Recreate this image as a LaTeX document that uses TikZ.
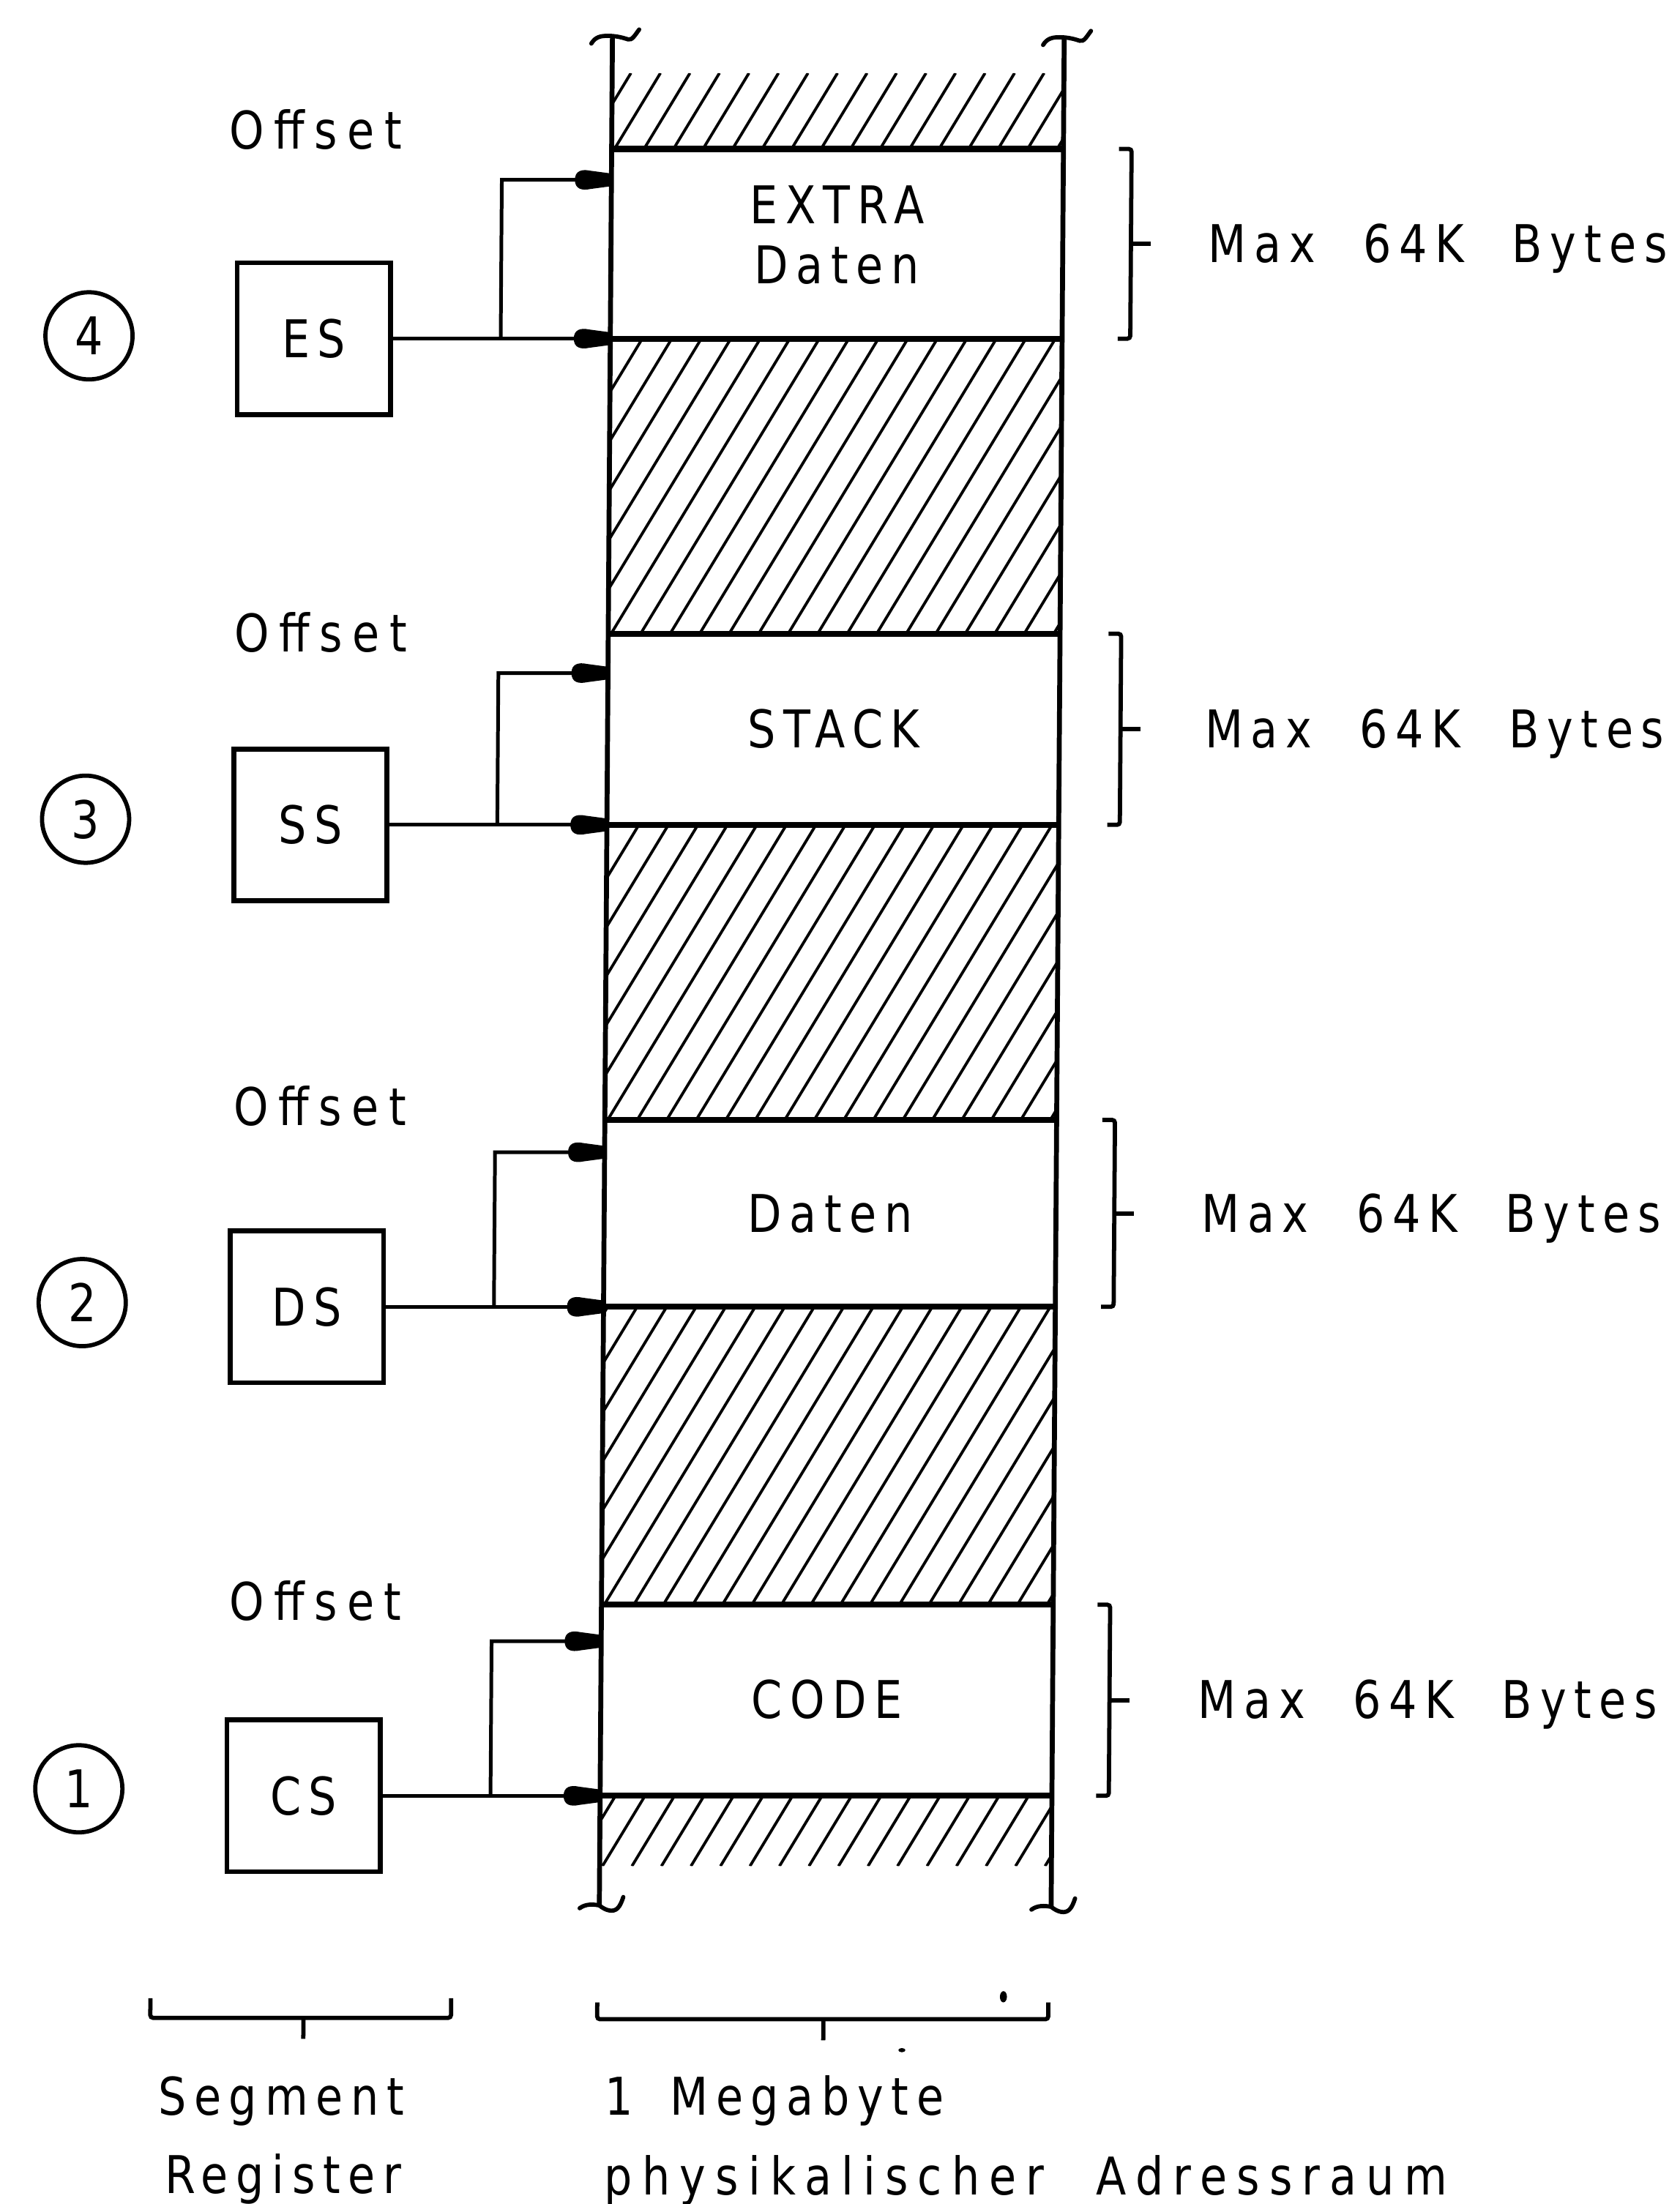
\documentclass[tikz,border=0pt]{standalone}
\usepackage{fontspec}
\setmainfont{DejaVu Sans}
\newfontfamily\lett[LetterSpace=15,FakeStretch=0.85,WordSpace=2.2]{DejaVu Sans}
\usetikzlibrary{arrows.meta}

\pgfdeclarearrow{
  name = Blob,
  setup code = {
    \pgfarrowssettipend{0pt}
    \pgfarrowssetlineend{-16pt}
    \pgfarrowssetbackend{-26pt}
    \pgfarrowshullpoint{0pt}{4.5pt}
    \pgfarrowshullpoint{0pt}{-4.5pt}
    \pgfarrowshullpoint{-26pt}{7.5pt}
    \pgfarrowshullpoint{-26pt}{-7.5pt}
  },
  drawing code = {
    \pgfpathmoveto{\pgfqpoint{0pt}{4.5pt}}
    \pgfpathlineto{\pgfqpoint{-15pt}{6.5pt}}
    \pgfpathcurveto{\pgfqpoint{-21pt}{7.8pt}}{\pgfqpoint{-26pt}{6.5pt}}{\pgfqpoint{-26pt}{0pt}}
    \pgfpathcurveto{\pgfqpoint{-26pt}{-6.5pt}}{\pgfqpoint{-21pt}{-7.8pt}}{\pgfqpoint{-15pt}{-6.5pt}}
    \pgfpathlineto{\pgfqpoint{0pt}{-4.5pt}}
    \pgfpathclose
    \pgfusepathqfill
  }
}

\tikzset{
  lbl/.style={font={\lett\fontsize{37}{43}\selectfont}, inner sep=0pt, text=black},
  regbox/.style={draw, line width=3.5pt, minimum width=109pt, minimum height=108pt, inner sep=0pt, lbl},
  numcirc/.style={draw, circle, line width=3pt, minimum size=62pt, inner sep=0pt, lbl},
  conn/.style={line width=2.6pt, -{Blob}},
  colline/.style={line width=3.5pt},
  segline/.style={line width=4.2pt},
  hatchline/.style={line width=2pt},
  brk/.style={line width=3pt, rounded corners=2pt},
  endmark/.style={line width=3pt, line cap=round},
}

\newcommand{\hatchband}[2]{%
  \begin{scope}
    \clip (436,#1) -- (757.5,#1) -- (757.5,#2) -- (436,#2) -- cycle;
    \foreach \k in {-8,...,16} {%
      \draw[hatchline] ({438+21*\k},#2) -- ++({(#2-#1)/1.67},{-(#2-#1)});
    }
  \end{scope}}

\newcommand{\tildetop}[2]{%
  \draw[endmark] ({#1-15},{#2+5}) .. controls ({#1-12},{#2}) and ({#1-8},{#2-0.5}) .. ({#1-3},{#2-0.5})
     .. controls ({#1+3},{#2-0.5}) and ({#1+8},{#2+1}) .. ({#1+11},{#2+2})
     .. controls ({#1+14},{#2+3}) and ({#1+16},{#2-1}) .. ({#1+19},{#2-5});}
\newcommand{\tildebot}[2]{%
  \draw[endmark] ({#1-14},{#2+2}) .. controls ({#1-10},{#2-1}) and ({#1-5},{#2-1}) .. ({#1},{#2})
     .. controls ({#1+5},{#2+4}) and ({#1+10},{#2+5}) .. ({#1+13},{#2+2})
     .. controls ({#1+15},{#2}) and ({#1+16},{#2-3}) .. ({#1+17},{#2-6});}

\newcommand{\rbrk}[3]{%
  \draw[brk] ({#1-9},#2) -- (#1,#2) -- (#1,#3) -- ({#1-9},#3);
  \draw[brk] (#1,{(#2+#3)/2}) -- ({#1+14},{(#2+#3)/2});}

\begin{document}
\begin{tikzpicture}[x=1pt,y=-1pt]
\useasboundingbox (0,0) rectangle (1195,1568.5);
\begin{scope}[xslant=0.007]
  % hatched free memory
  \hatchband{52}{106}
  \hatchband{241}{451}
  \hatchband{587}{797}
  \hatchband{930}{1142}
  \hatchband{1278}{1328}
  % column edges
  \draw[colline] (436,26) -- (436,1356);
  \draw[colline] (757.5,27) -- (757.5,1357);
  \tildetop{436}{26}
  \tildetop{757.5}{27}
  \tildebot{436}{1356}
  \tildebot{757.5}{1357}
  % segment boundaries
  \foreach \yy in {106,241,451,587,797,930,1142,1278}
    \draw[segline] (436,\yy) -- (757.5,\yy);

  % segment texts
  \node[lbl, anchor=base] (s4a) at (597,159) {EXTRA};
  \node[lbl, anchor=base] (s4b) at (597,202) {Daten};
  \node[lbl, anchor=base] (s3) at (597,532) {STACK};
  \node[lbl, anchor=base] (s2) at (597,877) {Daten};
  \node[lbl, anchor=base] (s1) at (597,1223) {CODE};

  % arrow targets on the column edge
  \coordinate (t4lo) at (436,241);  \coordinate (t4up) at (436,128);
  \coordinate (t3lo) at (436,587);  \coordinate (t3up) at (436,479);
  \coordinate (t2lo) at (436,930);  \coordinate (t2up) at (436,820);
  \coordinate (t1lo) at (436,1278); \coordinate (t1up) at (436,1168);

  % branch points
  \coordinate (b4) at (358,241);
  \coordinate (b3) at (358,587);
  \coordinate (b2) at (358,930);
  \coordinate (b1) at (358,1278);

  % registers
  \node[regbox] (es) at (225,241) {ES};
  \node[regbox] (ss) at (225,587) {SS};
  \node[regbox] (ds) at (225,930) {DS};
  \node[regbox] (cs) at (225,1278) {CS};

  % numbers
  \node[numcirc] (n4) at (65,239) {4};
  \node[numcirc] (n3) at (65,583) {3};
  \node[numcirc] (n2) at (65,927) {2};
  \node[numcirc] (n1) at (65,1273) {1};

  % offset labels
  \node[lbl, anchor=base west] (o4) at (164,106) {\addfontfeatures{LetterSpace=19}Offset};
  \node[lbl, anchor=base west] (o3) at (170,464) {\addfontfeatures{LetterSpace=19}Offset};
  \node[lbl, anchor=base west] (o2) at (172,801) {\addfontfeatures{LetterSpace=19}Offset};
  \node[lbl, anchor=base west] (o1) at (171,1153) {\addfontfeatures{LetterSpace=19}Offset};

  % connectors
  \draw[conn] (es.east) -- (t4lo);
  \draw[conn] (b4) |- (t4up);
  \draw[conn] (ss.east) -- (t3lo);
  \draw[conn] (b3) |- (t3up);
  \draw[conn] (ds.east) -- (t2lo);
  \draw[conn] (b2) |- (t2up);
  \draw[conn] (cs.east) -- (t1lo);
  \draw[conn] (b1) |- (t1up);

  % right brackets
  \rbrk{806}{106}{241}
  \rbrk{801}{451}{587}
  \rbrk{799}{797}{930}
  \rbrk{798}{1142}{1278}
  \node[lbl, anchor=base west] (m4) at (861,187) {Max 64K Bytes};
  \node[lbl, anchor=base west] (m3) at (861,532) {Max 64K Bytes};
  \node[lbl, anchor=base west] (m2) at (861,877) {Max 64K Bytes};
  \node[lbl, anchor=base west] (m1) at (861,1223) {Max 64K Bytes};

  % bottom brackets
  \draw[brk] (117,1422) -- (117,1436) -- (331,1436) -- (331,1422);
  \draw[brk] (226,1436) -- (226,1451);
  \draw[brk] (435,1425) -- (435,1437) -- (756,1437) -- (756,1425);
  \draw[brk] (596,1437) -- (596,1452);
  \fill (724,1421) ellipse [x radius=2.5pt, y radius=4pt];
  \fill (652,1459) ellipse [x radius=2.5pt, y radius=1.5pt];

  % bottom texts
  \node[lbl, anchor=base west] (bt1) at (123,1505) {Segment};
  \node[lbl, anchor=base west] (bt2) at (128,1561) {Register};
  \node[lbl, anchor=base west] (bt3) at (441,1505) {1\hspace{-8pt} Megabyte};
  \node[lbl, anchor=base west] (bt4) at (441,1562) {\addfontfeatures{LetterSpace=18.5}physikalischer Adressraum};
\end{scope}
\end{tikzpicture}
\end{document}
